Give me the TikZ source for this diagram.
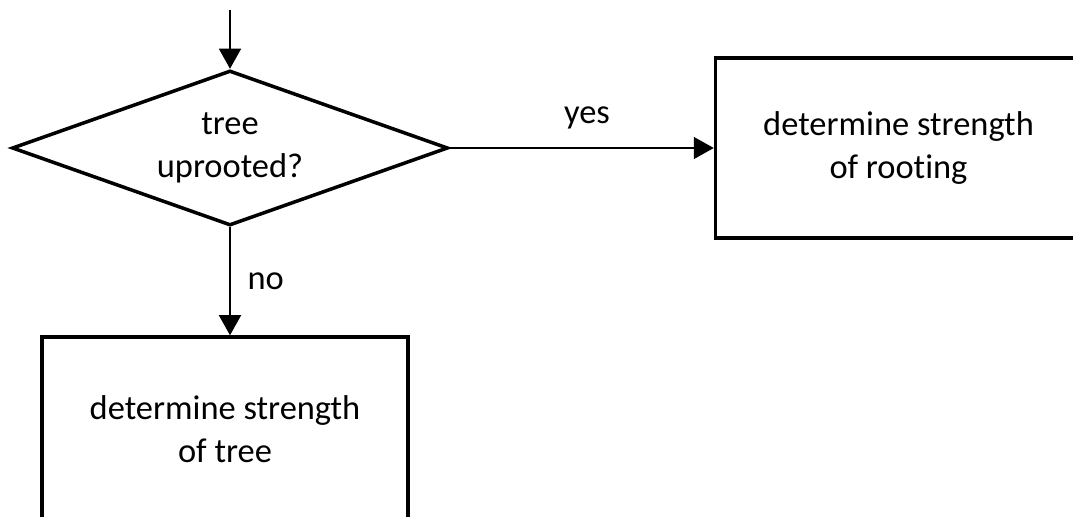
\documentclass[tikz,border=0pt]{standalone}
\usepackage{fontspec}
\setmainfont[Ligatures=NoCommon]{Carlito}
\usetikzlibrary{positioning, shapes.geometric, arrows.meta}

\begin{document}
\begin{tikzpicture}[
    decision/.style={diamond, draw, line width=2.5pt, aspect=2.8, minimum width=10.9cm, minimum height=3.875cm, inner sep=0pt, align=center},
    process/.style={rectangle, draw, line width=2.5pt, minimum width=9.15cm, minimum height=4.5cm, align=center},
    flow/.style={-{Triangle[length=0.5cm, width=0.55cm]}, line width=1pt},
    every node/.style={font=\fontsize{24.5pt}{30.5pt}\selectfont}
  ]
    % Frame of the picture, boxes run off its edges
    \useasboundingbox (0,0) rectangle (26.825,-12.9);
    \clip (0,0) rectangle (26.825,-12.9);

    % Decision and outcomes
    \node[decision] (uprooted) at (5.75,-3.7) {tree\\uprooted?};
    \node[process] (rooting) at (22.4625,-3.7) {determine strength\\of rooting};
    \node[process, minimum height=4.6cm] (tree) at (5.625,-10.725) {determine strength\\of tree};
    \coordinate (start) at (5.75,-0.25);

    % Connectors
    \draw[flow] (start) -- (uprooted.north);
    \draw[flow] (uprooted.east) -- (rooting.west)
      node[pos=0.52, anchor=base, yshift=0.625cm] {yes};
    \draw[flow] (uprooted.south) -- (uprooted.south |- tree.north)
      node[midway, anchor=west, inner sep=0pt, xshift=0.42cm] {no};
\end{tikzpicture}
\end{document}
